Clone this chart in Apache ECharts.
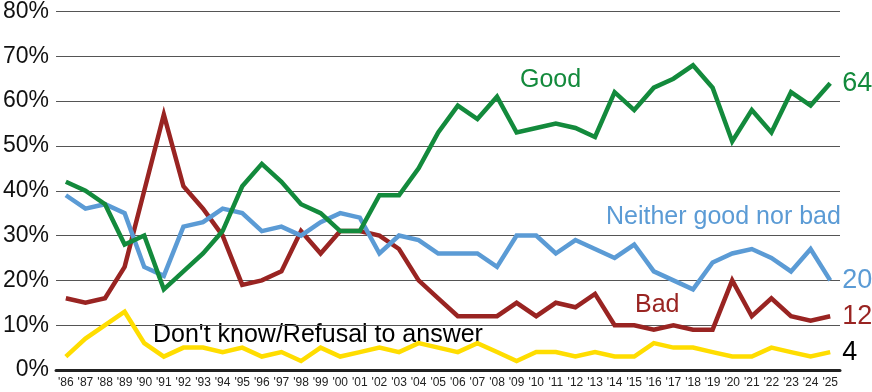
<!DOCTYPE html>
<html>
<head>
<meta charset="utf-8">
<script src="https://cdn.jsdelivr.net/npm/echarts@6/dist/echarts.min.js"></script>
<style>
html,body{margin:0;padding:0;background:#fff;}
#chart{width:872px;height:392px;}
</style>
</head>
<body>
<div id="chart"></div>
<script>
const years = ["'86","'87","'88","'89","'90","'91","'92","'93","'94","'95","'96","'97","'98","'99","'00","'01","'02","'03","'04","'05","'06","'07","'08","'09","'10","'11","'12","'13","'14","'15","'16","'17","'18","'19","'20","'21","'22","'23","'24","'25"];
const good = [42,40,37,28,30,18,22,26,31,41,46,42,37,35,31,31,39,39,45,53,59,56,61,53,54,55,54,52,62,58,63,65,68,63,51,58,53,62,59,64];
const neither = [39,36,37,35,23,21,32,33,36,35,31,32,30,33,35,34,26,30,29,26,26,26,23,30,30,26,29,27,25,28,22,20,18,24,26,27,25,22,27,20];
const bad = [16,15,16,23,40,57,41,36,30,19,20,22,31,26,31,31,30,27,20,16,12,12,12,15,12,15,14,17,10,10,9,10,9,9,20,12,16,12,11,12];
const dontKnow = [3,7,10,13,6,3,5,5,4,5,3,4,2,5,3,4,5,4,6,5,4,6,4,2,4,4,3,4,3,3,6,5,5,4,3,3,5,4,3,4];
const yTicks = [0,10,20,30,40,50,60,70,80];

const colors = {good:'#138a3c', neither:'#5b9bd5', bad:'#992422', dk:'#ffdd00'};
const font = '"Liberation Sans", Arial, sans-serif';

function mkSeries(name, data, color, z){
  return {
    name, type:'line', data, z,
    symbol:'none', smooth:false,
    lineStyle:{color, width:4.5, join:'miter'},
    itemStyle:{color},
    endLabel:{show:true, formatter:'{c}', color: name==='dk' ? '#000' : color,
      fontFamily:font, fontSize:27, distance:12},
    emphasis:{disabled:true}
  };
}

const chart = echarts.init(document.getElementById('chart'));
chart.setOption({
  animation:false,
  grid:{left:55, right:32, top:10, bottom:22},
  xAxis:{
    type:'category', data:years, boundaryGap:true,
    axisLine:{show:true, lineStyle:{color:'#222', width:3}},
    axisTick:{show:false},
    axisLabel:{color:'#222', fontFamily:font, fontSize:12, margin:7, interval:0}
  },
  yAxis:{
    type:'value', min:0, max:80, interval:10,
    axisLine:{show:false}, axisTick:{show:false},
    axisLabel:{formatter: v => yTicks.includes(v) ? v + '%' : '', color:'#111', fontFamily:font, fontSize:23, margin:7},
    splitLine:{lineStyle:{color:'#555', width:1}}
  },
  series:[
    mkSeries('dk', dontKnow, colors.dk, 2),
    mkSeries('bad', bad, colors.bad, 3),
    mkSeries('neither', neither, colors.neither, 4),
    mkSeries('good', good, colors.good, 5)
  ],
  graphic:[
    {type:'text', x:520, y:80, style:{text:'Good', fill:colors.good, font:'25px '+font, verticalAlign:'middle'}},
    {type:'text', x:606, y:217, style:{text:'Neither good nor bad', fill:colors.neither, font:'25px '+font, verticalAlign:'middle'}},
    {type:'text', x:635, y:305, style:{text:'Bad', fill:colors.bad, font:'25px '+font, verticalAlign:'middle'}},
    {type:'text', x:153, y:335, style:{text:"Don't know/Refusal to answer", fill:'#000', font:'25px '+font, verticalAlign:'middle'}}
  ]
});
</script>
</body>
</html>
